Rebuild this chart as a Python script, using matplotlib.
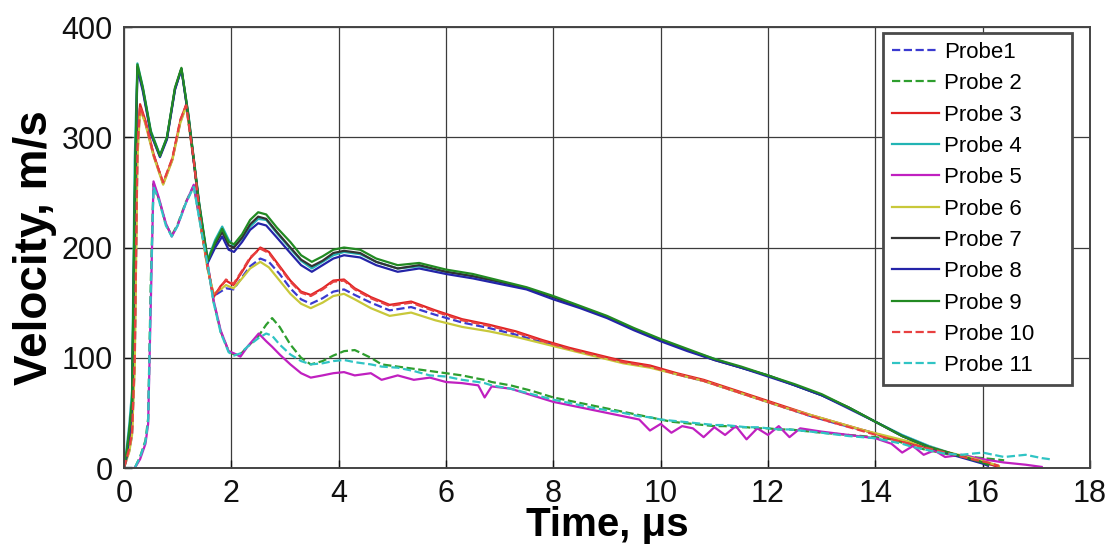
import numpy as np
import matplotlib
matplotlib.use('Agg')
import matplotlib.pyplot as plt

plt.rcParams['font.family'] = ['Liberation Sans', 'DejaVu Sans']

# time axes (microseconds) for the three groups of probes
t_fast = [0, 0.05, 0.1, 0.15, 0.2, 0.25, 0.35, 0.5, 0.67, 0.8, 0.95, 1.07,
          1.2, 1.4, 1.56, 1.7, 1.83, 1.95,
          2.05, 2.2, 2.35, 2.5, 2.65, 2.85,
          3.1, 3.3, 3.5, 3.7, 3.9, 4.1,
          4.4, 4.7, 5.1, 5.5, 6.0, 6.5,
          7.0, 7.5, 8.0, 8.5, 9.0, 9.5,
          10.0, 10.5, 11.0, 11.5, 12.0, 12.5,
          13.0, 13.5, 14.0, 14.5, 15.0, 15.5,
          16.0, 16.1]

t_mid = [0, 0.1, 0.15, 0.2, 0.25, 0.3, 0.4, 0.55, 0.73, 0.9, 1.05, 1.16,
         1.3, 1.45, 1.56, 1.67, 1.8, 1.9,
         2.04, 2.2, 2.35, 2.54, 2.7, 2.9,
         3.1, 3.3, 3.48, 3.7, 3.9, 4.1,
         4.3, 4.6, 4.95, 5.35, 5.8, 6.3,
         6.8, 7.3, 7.8, 8.3, 8.8, 9.3,
         9.8, 10.3, 10.8, 11.3, 11.8, 12.3,
         12.8, 13.3, 13.8, 14.3, 14.8, 15.3,
         15.8, 16.1, 16.3]

t_slow = [0, 0.2, 0.3, 0.4, 0.45, 0.5, 0.55, 0.65, 0.78, 0.89, 1.0, 1.15,
          1.3, 1.45, 1.56, 1.67, 1.8, 1.95,
          2.05, 2.17, 2.3, 2.51, 2.65, 2.76,
          2.9, 3.1, 3.3, 3.48, 3.7, 3.9,
          4.1, 4.3, 4.6, 4.8, 5.1, 5.4,
          5.7, 6.0, 6.3, 6.6, 6.72, 6.85,
          7.2, 7.6, 8.0, 8.4, 8.8, 9.2,
          9.6, 9.8, 10.0, 10.2, 10.4, 10.6,
          10.8, 11.0, 11.2, 11.4, 11.6, 11.8,
          12.0, 12.2, 12.4, 12.6, 13.0, 13.5,
          14.0, 14.3, 14.5, 14.7, 14.9, 15.1,
          15.3, 15.6, 16.0, 16.4, 16.8, 17.1,
          17.25]

# velocities, m/s
probe1 = [0, 16, 30, 95, 285, 327, 313, 284, 258, 280, 314, 329,
          279, 214, 181, 156, 160, 163,
          162, 173, 183, 190, 187, 176,
          163, 153, 149, 154, 160, 162,
          157, 150, 143, 146, 139, 132,
          127, 121, 114, 108, 102, 96,
          92, 85, 79, 71, 63, 55,
          47, 40, 34, 27, 21, 14,
          8, 4, 1]
probe2 = [0, 0, 10, 25, 45, 170, 258, 244, 221, 211, 221, 241,
          256, 214, 184, 151, 124, 106,
          103, 103, 110, 120, 130, 136,
          128, 112, 100, 94, 97, 102,
          106, 107, 100, 94, 92, 90,
          88, 86, 84, 81, 80, 78,
          75, 70, 64, 60, 56, 52,
          48, 46, 44, 42, 41, 40,
          39, 38, 38, 37, 37, 36,
          36, 35, 35, 34, 32, 30,
          28, 26, 23, 20, 17, 15,
          13, 11, 9, 7]
probe3 = [0, 20, 35, 120, 300, 330, 315, 285, 258, 280, 315, 330,
          280, 215, 182, 155, 165, 170,
          166, 178, 190, 200, 196, 183,
          170, 160, 157, 163, 170, 171,
          163, 155, 148, 151, 143, 135,
          130, 124, 116, 109, 103, 97,
          93, 86, 80, 72, 64, 56,
          48, 41, 34, 27, 21, 14,
          8, 4, 1]
probe4 = [0, 18, 40, 70, 280, 367, 346, 306, 284, 300, 344, 362,
          321, 241, 189, 207, 219, 207,
          201, 208, 219, 226, 225, 213,
          199, 188, 181, 187, 193, 196,
          194, 187, 181, 183, 178, 174,
          168, 163, 155, 146, 137, 126,
          116, 107, 99, 91, 84, 75,
          66, 55, 42, 30, 20, 12,
          6, 4]
probe5 = [0, 0, 8, 22, 40, 150, 260, 245, 222, 210, 220, 240,
          257, 215, 185, 152, 125, 106,
          104, 101, 110, 122, 115, 110,
          103, 94, 86, 82, 84, 86,
          87, 84, 86, 80, 84, 80,
          82, 78, 77, 75, 64, 74,
          72, 66, 60, 56, 52, 48,
          44, 34, 40, 32, 38, 36,
          28, 37, 30, 38, 26, 36,
          30, 38, 28, 36, 33, 30,
          27, 22, 14, 20, 12, 16,
          10, 12, 8, 5, 3, 1]
probe6 = [0, 15, 30, 90, 280, 326, 312, 283, 257, 279, 313, 328,
          278, 213, 180, 158, 162, 166,
          163, 172, 181, 187, 182, 170,
          158, 149, 145, 150, 156, 158,
          153, 145, 138, 141, 134, 128,
          124, 119, 113, 107, 101, 95,
          91, 85, 79, 71, 63, 55,
          48, 41, 34, 28, 22, 15,
          9, 5, 2]
probe7 = [0, 12, 32, 58, 240, 364, 344, 304, 283, 299, 344, 362,
          319, 239, 187, 203, 214, 202,
          200, 209, 221, 228, 226, 214,
          200, 189, 183, 188, 195, 197,
          195, 187, 181, 184, 178, 174,
          169, 163, 155, 146, 137, 126,
          116, 107, 98, 91, 84, 75,
          66, 55, 42, 29, 19, 12,
          5, 3]
probe8 = [0, 10, 30, 55, 230, 362, 342, 303, 282, 298, 343, 362,
          318, 238, 186, 200, 210, 198,
          196, 205, 216, 222, 220, 209,
          195, 184, 178, 184, 190, 193,
          191, 184, 178, 181, 176, 172,
          167, 162, 153, 145, 136, 125,
          115, 106, 98, 91, 83, 75,
          66, 54, 42, 29, 19, 11,
          4, 2]
probe9 = [0, 15, 35, 60, 250, 366, 345, 305, 283, 300, 345, 363,
          320, 240, 188, 205, 217, 205,
          203, 212, 225, 232, 230, 218,
          205, 193, 187, 192, 198, 200,
          198, 190, 184, 186, 180, 176,
          170, 164, 156, 147, 138, 127,
          117, 108, 99, 92, 84, 76,
          67, 55, 42, 29, 19, 12,
          5, 3]
probe10 = [0, 18, 32, 100, 290, 328, 314, 284, 259, 281, 316, 329,
           279, 214, 181, 156, 164, 171,
           167, 179, 191, 199, 195, 182,
           169, 159, 156, 162, 169, 170,
           162, 154, 147, 150, 142, 134,
           129, 123, 115, 108, 102, 96,
           92, 85, 79, 71, 63, 55,
           47, 40, 33, 26, 20, 14,
           8, 5, 2]
probe11 = [0, 0, 10, 24, 42, 160, 255, 243, 220, 210, 220, 240,
           255, 213, 184, 150, 123, 105,
           102, 104, 110, 118, 122, 120,
           112, 103, 97, 94, 95, 97,
           98, 96, 94, 92, 91, 88,
           84, 83, 80, 78, 77, 75,
           72, 67, 62, 58, 54, 51,
           47, 46, 44, 43, 42, 41,
           40, 39, 39, 38, 37, 37,
           36, 35, 35, 34, 32, 29,
           27, 24, 22, 19, 17, 15,
           13, 12, 14, 10, 12, 9,
           8]

series = [
    ('Probe1', t_mid, probe1, '#3a3ad0', '--'),
    ('Probe 2', t_slow, probe2, '#2e9e2e', '--'),
    ('Probe 3', t_mid, probe3, '#e02222', '-'),
    ('Probe 4', t_fast, probe4, '#22b4b4', '-'),
    ('Probe 5', t_slow, probe5, '#c020c0', '-'),
    ('Probe 6', t_mid, probe6, '#c8c83a', '-'),
    ('Probe 7', t_fast, probe7, '#333333', '-'),
    ('Probe 8', t_fast, probe8, '#2424a8', '-'),
    ('Probe 9', t_fast, probe9, '#228a22', '-'),
    ('Probe 10', t_mid, probe10, '#e84040', '--'),
    ('Probe 11', t_slow, probe11, '#30c4c4', '--'),
]

fig = plt.figure(figsize=(11.15, 5.54), dpi=100)
ax = fig.add_axes([0.1112, 0.1552, 0.8664, 0.7960])

for label, t, v, color, ls in series:
    ax.plot(t[:len(v)], v, color=color, linestyle=ls, linewidth=1.6, label=label)

ax.set_xlim(0, 18)
ax.set_ylim(0, 400)
ax.set_xticks(np.arange(0, 19, 2))
ax.set_yticks(np.arange(0, 401, 100))
ax.grid(True, color='#3c3c3c', linewidth=0.9)
ax.tick_params(direction='in', length=6, width=1, labelsize=22, colors='#111111')
ax.tick_params(axis='y', pad=8)
ax.tick_params(axis='x', pad=8)
for sp in ax.spines.values():
    sp.set_color('#444444')
    sp.set_linewidth(1.4)

ax.set_xlabel('Time, μs', fontsize=29, fontweight='bold', labelpad=-2)
ax.set_ylabel('Velocity, m/s', fontsize=33, fontweight='bold', labelpad=3)

# fixed-width legend box, entries packed to the left
leg = ax.legend(loc='upper left', bbox_to_anchor=(0.7857, 0.0, 0.1957, 0.9864),
                mode='expand', borderaxespad=0, fontsize=16, labelspacing=0.465,
                handlelength=2.1, handletextpad=0.25, borderpad=0.4,
                fancybox=False, framealpha=1)
leg.get_frame().set_edgecolor('#4a4a4a')
leg.get_frame().set_linewidth(2.0)

fig.savefig('out.png', dpi=100)
